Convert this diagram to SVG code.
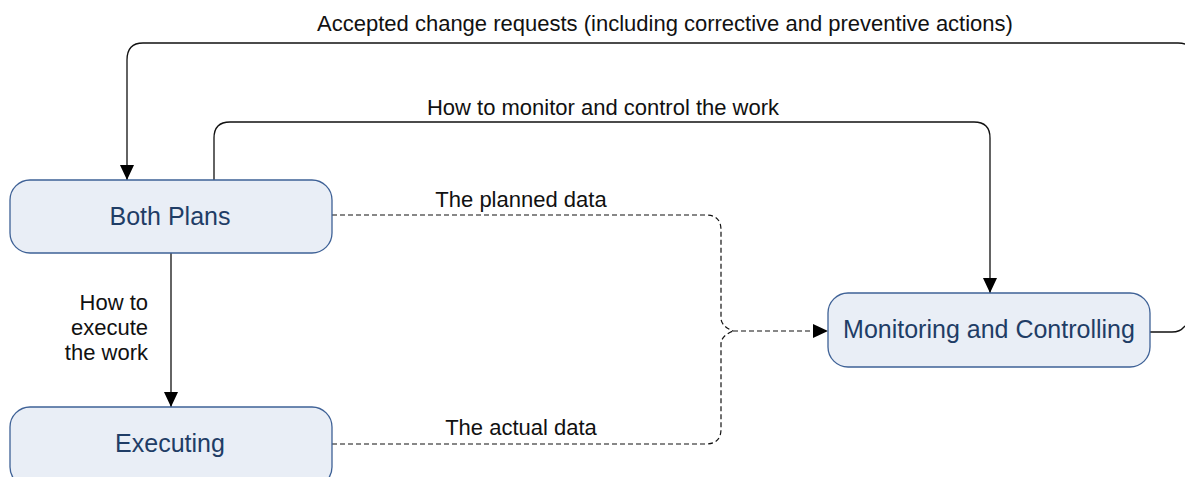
<svg xmlns="http://www.w3.org/2000/svg" width="1185" height="477" viewBox="0 0 1185 477">
<defs>
<marker id="arr" viewBox="0 0 15 14" refX="15" refY="7" markerWidth="15" markerHeight="14" markerUnits="userSpaceOnUse" orient="auto">
<path d="M0,0 L15,7 L0,14 Z" fill="#000"/>
</marker>
<style>
.node rect{fill:#E9EEF6;stroke:#3E6196;stroke-width:1.3}
.node text{font-family:"Liberation Sans",Arial,sans-serif;font-size:25px;fill:#1F3D66;text-anchor:middle}
.lbl{font-family:"Liberation Sans",Arial,sans-serif;font-size:22px;fill:#111}
.solid{fill:none;stroke:#111;stroke-width:1.3}
.dash{fill:none;stroke:#111;stroke-width:1.2;stroke-dasharray:5,3}
</style>
</defs>
<rect width="1185" height="477" fill="#fff"/>
<g id="connectors">
<path class="solid" d="M1150,332 L1172,332 Q1180,332 1184,327 L1192,320 L1192,55 Q1192,43 1178,43 L143,43 Q127,43 127,60 L127,180" marker-end="url(#arr)"/>
<path class="solid" d="M214,180 L214,138 Q214,122 230,122 L974,122 Q990,122 990,138 L990,293" marker-end="url(#arr)"/>
<line class="solid" x1="171" y1="253" x2="171" y2="407" marker-end="url(#arr)"/>
<path class="dash" d="M332,215 L706,215 Q721,215 721,230 L721,318 Q721,326 733,331"/>
<path class="dash" d="M332,444 L706,444 Q721,444 721,429 L721,344 Q721,336 733,331"/>
<path class="dash" d="M733,331 L828,331" marker-end="url(#arr)"/>
</g>
<g id="labels">
<text class="lbl" x="665" y="31" text-anchor="middle">Accepted change requests (including corrective and preventive actions)</text>
<text class="lbl" x="603" y="115" text-anchor="middle">How to monitor and control the work</text>
<text class="lbl" x="521" y="207" text-anchor="middle">The planned data</text>
<text class="lbl" x="521" y="435" text-anchor="middle">The actual data</text>
<text class="lbl" x="148" y="310" text-anchor="end">How to</text>
<text class="lbl" x="148" y="335" text-anchor="end">execute</text>
<text class="lbl" x="148" y="360" text-anchor="end">the work</text>
</g>
<g id="both-plans" class="node">
<rect x="10" y="180" width="322" height="73" rx="20" ry="20"/>
<text x="170" y="225">Both Plans</text>
</g>
<g id="executing" class="node">
<rect x="10" y="407" width="322" height="80" rx="20" ry="20"/>
<text x="170" y="452">Executing</text>
</g>
<g id="monitoring-and-controlling" class="node">
<rect x="828" y="293" width="322" height="74" rx="20" ry="20"/>
<text x="989" y="338">Monitoring and Controlling</text>
</g>
</svg>
